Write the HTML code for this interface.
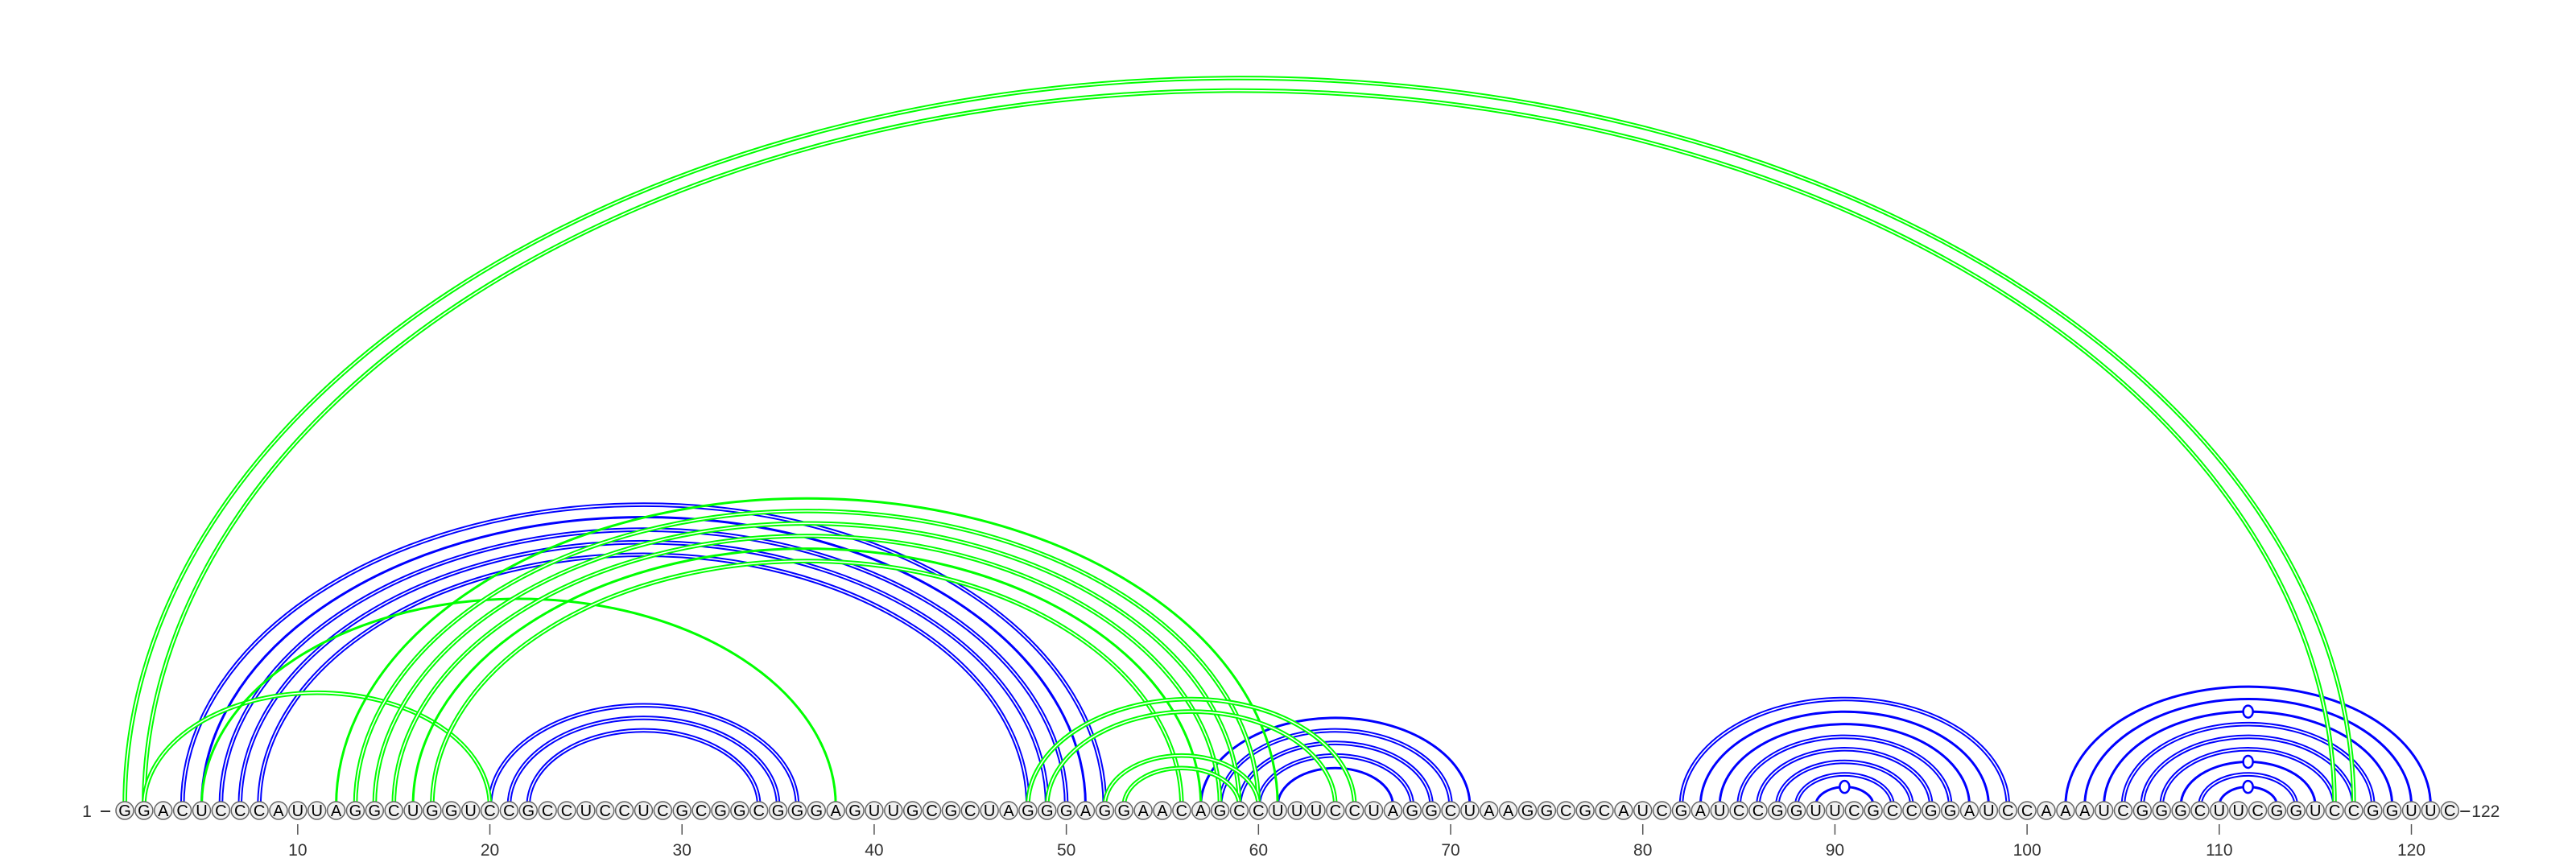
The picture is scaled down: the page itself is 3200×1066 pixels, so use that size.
<!DOCTYPE html>
<html><head><meta charset="utf-8"><style>
html,body{margin:0;padding:0;background:#fff;}
svg{display:block;}
text{font-family:"Liberation Sans","DejaVu Sans",sans-serif;}
</style></head>
<body>
<svg id="chart" width="3200" height="1066" viewBox="0 0 3200 1066" xmlns="http://www.w3.org/2000/svg">
<g id="arcs-blue"></g>
<g id="arcs-green"></g>
<g id="markers"></g>
<g id="axis"></g>
<g id="bases"></g>
</svg>
<script>
const sequence = "GGACUCCCAUUAGGCUGGUCCGCCUCCUCGCGGCGGGAGUUGCGCUAGGGAGGAACAGCCUUUCCUAGGCUAAGGCGCAUCGAUCCGGUUCGCCGGAUCCAAAUCGGGCUUCGGUCCGGUUC";
const tickPositions = [10,20,30,40,50,60,70,80,90,100,110,120];
// structure A (blue)
const blueI = [4,5,6,7,8, 20,21,22, 57,58,59,60,61, 82,83,84,85,86,87,88,89, 102,103,104,105,106,107,108,109,110];
const blueJ = [52,51,50,49,48, 36,35,34, 71,70,69,68,67, 99,98,97,96,95,94,93,92, 121,120,119,118,117,116,115,114,113];
const blueDouble = [1,0,1,1,1, 1,1,1, 0,1,1,1,0, 1,0,0,1,1,1,1,0, 0,0,0,1,1,1,0,1,0];
// structure B (green)
const greenI = [1,2,2,5,12,13,14,15,16,17,48,49,52,53];
const greenJ = [117,116,20,38,61,60,59,58,57,56,65,64,60,59];
const greenDouble = [1,1,1,0,0,1,1,1,0,1,1,1,1,1];
// hairpin loop markers
const markerI = [89,104,108,110];
const markerJ = [92,119,115,113];

const NS="http://www.w3.org/2000/svg";
const X0=155, DX=23.87, BASE_Y=1007, ARC_Y=1001, K=0.653;
function xPos(i){return X0+(i-1)*DX;}
function mk(tag,attrs,parent){const e=document.createElementNS(NS,tag);for(const k in attrs)e.setAttribute(k,attrs[k]);parent.appendChild(e);return e;}
function arcPath(i,j){const a=xPos(i),b=xPos(j),rx=(b-a)/2,ry=rx*K;return `M ${a} ${ARC_Y} A ${rx} ${ry} 0 0 1 ${b} ${ARC_Y}`;}

function drawArcs(I,J,D,color,gid){
  const g=document.getElementById(gid);
  for(let k=0;k<I.length;k++){
    const d=arcPath(I[k],J[k]);
    if(D[k]){
      const p=mk('path',{d:d,fill:'none',stroke:color,'stroke-width':5.6},g);
      
      
      const p2=mk('path',{d:d,fill:'none',stroke:'#fff','stroke-width':1.6},g);
      
      
    } else {
      const p=mk('path',{d:d,fill:'none',stroke:color,'stroke-width':3},g);
      
      
    }
  }
}
drawArcs(blueI,blueJ,blueDouble,'#0000ff','arcs-blue');
drawArcs(greenI,greenJ,greenDouble,'#00ff00','arcs-green');

const mg=document.getElementById('markers');
for(let k=0;k<markerI.length;k++){
  const a=xPos(markerI[k]),b=xPos(markerJ[k]),rx=(b-a)/2;
  const e=mk('ellipse',{cx:(a+b)/2,cy:ARC_Y-rx*K,rx:6,ry:7.5,fill:'#fff',stroke:'#0000ff','stroke-width':2.5},mg);
  
  
}

const ax=document.getElementById('axis');
for(const t of tickPositions){
  const l=mk('line',{x1:xPos(t),x2:xPos(t),y1:1024,y2:1037,stroke:'#555','stroke-width':1.5},ax);
  
  
  const tx=mk('text',{x:xPos(t),y:1063,'font-size':21,fill:'#333','text-anchor':'middle'},ax);
  tx.textContent=t;
  
  
}
const s1=mk('text',{x:108,y:1015,'font-size':21,fill:'#333','text-anchor':'middle'},ax);
s1.textContent='1';


const d1=mk('line',{x1:125,x2:137,y1:1008,y2:1008,stroke:'#333','stroke-width':2},ax);


const dN=mk('line',{x1:xPos(sequence.length)+13,x2:xPos(sequence.length)+25,y1:1008,y2:1008,stroke:'#333','stroke-width':2},ax);


const sN=mk('text',{x:xPos(sequence.length)+27,y:1015,'font-size':21,fill:'#333'},ax);
sN.textContent=String(sequence.length);



const bg=document.getElementById('bases');
for(let i=1;i<=sequence.length;i++){
  const c=mk('circle',{cx:xPos(i),cy:BASE_Y,r:11,fill:'#f0f0f0',stroke:'#666','stroke-width':1.5},bg);
  
  
  const t=mk('text',{x:xPos(i),y:BASE_Y+7,'font-size':20,fill:'#000','text-anchor':'middle'},bg);
  t.textContent=sequence[i-1];
  
  
}
</script>
</body></html>
